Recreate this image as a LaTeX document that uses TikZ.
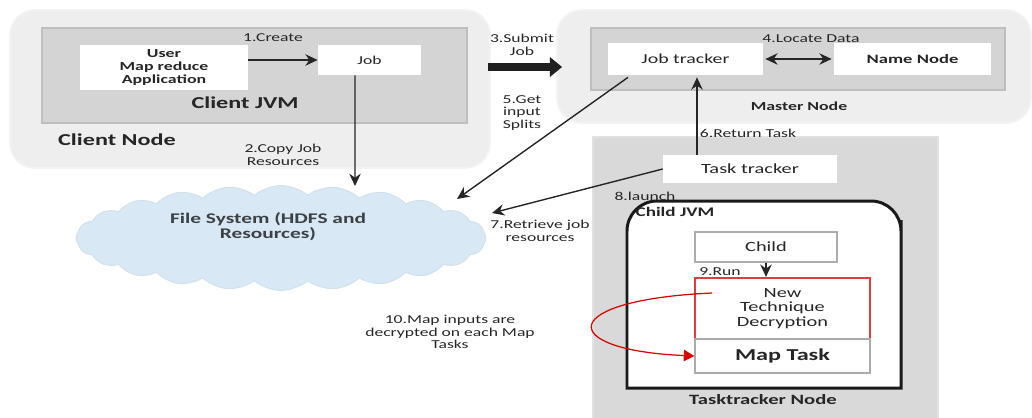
\documentclass[tikz,border=0pt]{standalone}
\usepackage{fontspec}
\setmainfont{Carlito}[FakeStretch=1.45]
\usetikzlibrary{arrows.meta,shapes.symbols,fit}
\definecolor{outerg}{HTML}{EEEEEE}
\definecolor{jvmg}{HTML}{D4D4D4}
\definecolor{jvmd}{HTML}{BEBEBE}
\definecolor{ttg}{HTML}{D9D9D9}
\definecolor{cloudb}{HTML}{D8E8F5}
\definecolor{cloudd}{HTML}{D0DFEC}
\definecolor{redb}{HTML}{E23B3B}
\definecolor{txt}{HTML}{262626}
\begin{document}
\begin{tikzpicture}[x=0.02cm,y=-0.02cm,
  outer/.style={fill=outerg, draw=outerg!70!white, line width=1pt, rounded corners=0.5cm, inner sep=0},
  jvm/.style={fill=jvmg, draw=jvmd, line width=1pt, inner sep=0},
  wbox/.style={fill=white, draw=none, inner sep=0, align=center, text=txt, font=\fontsize{8}{8.2}\selectfont},
  gbox/.style={fill=white, draw=gray!65, line width=0.8pt, inner sep=0, align=center, text=txt, font=\fontsize{8}{8.2}\selectfont},
  lbl/.style={font=\fontsize{6.9}{7.1}\selectfont, text=txt, align=center, inner sep=0},
  ttl/.style={font=\bfseries\fontsize{9.5}{10}\selectfont, text=txt, inner sep=0},
  arr/.style={draw=black!85, line width=0.8pt, -{Stealth[length=7pt,width=6.5pt]}},
  bigarr/.style={draw=black!88, line width=4.5pt, -{Triangle[length=7pt,width=11pt]}},
  redarr/.style={draw=red!85!black, line width=0.7pt, -{Triangle[length=6pt,width=6.5pt,fill=red!85!black]}},
]
\useasboundingbox (0,0) rectangle (1032,417);

% ---------------- containers
\node[outer, fit={(10,10) (490,168)}] (clientnode) {};
\node[jvm, fit={(42,28) (467,123)}] (clientjvm) {};
\node[outer, fit={(557,10) (1031,123)}] (masternode) {};
\node[jvm, fit={(591,28) (1005,90)}] (masterjvm) {};
\node[fill=ttg, draw=ttg!80!white, line width=1pt, inner sep=0, fit={(593,137) (938,425)}] (ttnode) {};
\draw[fill=white, draw=black!90, line width=1.7pt]
  (627,388) -- (627,250) [rounded corners=0.6cm] -- (627,201) -- (901,201) -- (901,250)
  [sharp corners] -- (901,388) -- cycle;

% ---------------- cloud
\node[cloud, cloud puffs=24, cloud puff arc=80, cloud ignores aspect,
      minimum width=8.2cm, minimum height=2.1cm, fill=cloudb, draw=cloudd, line width=0.5pt]
      (cloud) at (281,238) {};
\node[font=\bfseries\fontsize{8.4}{8.4}\selectfont, text=black!72!cloudb, align=center, inner sep=0]
      (fstext) at (268,227) {File System (HDFS and\\Resources)};

% ---------------- boxes
\node[wbox, minimum width=3.36cm, minimum height=0.9cm, font=\bfseries\fontsize{7}{7.2}\selectfont]
      (userapp) at (164,67.5) {User\\Map reduce\\Application};
\node[wbox, minimum width=2.06cm, minimum height=0.6cm, font=\fontsize{6.9}{7}\selectfont] (job) at (369.5,60) {Job};
\node[wbox, minimum width=3.1cm, minimum height=0.64cm, font=\fontsize{7.8}{8}\selectfont] (jobtracker) at (685.5,59) {Job tracker};
\node[wbox, minimum width=3.14cm, minimum height=0.64cm, font=\bfseries\fontsize{7.3}{8}\selectfont] (namenode) at (912.5,59) {Name Node};
\node[wbox, minimum width=3.48cm, minimum height=0.56cm] (tasktracker) at (750,169) {Task tracker};
\node[gbox, minimum width=2.84cm, minimum height=0.6cm] (child) at (766,247) {Child};
\node[gbox, draw=redb, line width=1.3pt, minimum width=3.5cm, minimum height=1.22cm] (newtech) at (782.5,308.5) {New\\Technique\\Decryption};
\node[gbox, minimum width=3.5cm, minimum height=0.68cm, font=\bfseries\fontsize{9.5}{10}\selectfont] (maptask) at (782.5,356) {Map Task};

% ---------------- titles and labels
\node[ttl] (tclientjvm) at (245,103) {Client JVM};
\node[ttl] (tclientnode) at (117,140) {Client Node};
\node[ttl, font=\bfseries\fontsize{7}{8}\selectfont] (tmaster) at (799,106) {Master Node};
\node[ttl, font=\bfseries\fontsize{7.5}{8}\selectfont] (tchildjvm) at (675,212) {Child JVM};
\node[ttl, font=\bfseries\fontsize{8.1}{8}\selectfont] (ttasknode) at (763,400) {Tasktracker Node};

\node[lbl] (l1) at (273,38) {1.Create};
\node[lbl] (l2) at (283,155) {2.Copy Job\\Resources};
\node[lbl] (l3) at (522,45) {3.Submit\\Job};
\node[lbl] (l4) at (811,39) {4.Locate Data};
\node[lbl] (l5) at (522,113) {5.Get\\input\\Splits};
\node[lbl] (l6) at (748,133) {6.Return Task};
\node[lbl] (l7) at (540,231) {7.Retrieve job\\resources};
\node[lbl] (l8) at (645,196) {8.launch};
\node[lbl] (l9) at (720,272) {9.Run};
\node[lbl] (l10) at (450,332) {10.Map inputs are\\decrypted on each Map\\Tasks};

% ---------------- helper coordinates
\coordinate (fs1) at (355,186);
\coordinate (fs2) at (457,199);
\coordinate (fs3) at (492,213);
\coordinate (subY) at (0,67);
\coordinate (upx) at (697,0);
\coordinate (dstart) at (712,293);

% ---------------- connectors
\draw[arr] (userapp.east |- job.west) -- (job.west);
\draw[arr] ([xshift=-0.29cm]job.south) -- (fs1);
\draw[bigarr] ([xshift=-0.06cm]clientnode.east |- subY) -- ([xshift=0.12cm]masternode.west |- subY);
\draw[arr, {Stealth[length=7pt,width=6.5pt]}-{Stealth[length=7pt,width=6.5pt]}] ([xshift=0.04cm]jobtracker.east) -- ([xshift=-0.04cm]namenode.west);
\draw[arr] ([xshift=-1.15cm,yshift=-0.04cm]jobtracker.south) -- (fs2);
\draw[arr] (tasktracker.north -| upx) -- ([yshift=-0.04cm]jobtracker.south -| upx);
\draw[arr] (tasktracker.west) -- (fs3);
\draw[arr] (child.south) -- (newtech.north -| child.south);
\draw[redarr] (dstart) .. controls (556,300) and (556,350) .. (maptask.west);
\end{tikzpicture}
\end{document}
